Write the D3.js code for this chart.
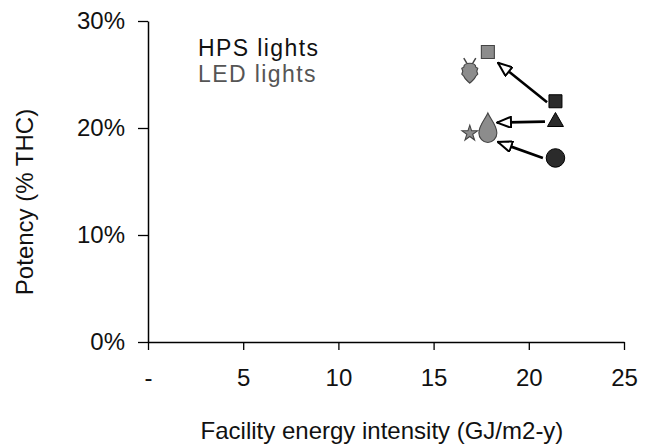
<!DOCTYPE html>
<html>
<head>
<meta charset="utf-8">
<script src="https://cdn.jsdelivr.net/npm/d3@7"></script>
<style>
  body { margin: 0; background: #fff; }
  svg { display: block; font-family: "Liberation Sans", Arial, sans-serif; }
</style>
</head>
<body>
<svg id="chart" width="645" height="445"></svg>
<script>
// ---- data ----
const xTicks = [0, 5, 10, 15, 20, 25];
const xTickLabels = ["-", "5", "10", "15", "20", "25"];
const yTicks = [0, 0.1, 0.2, 0.3];
const yTickLabels = ["0%", "10%", "20%", "30%"];

const hpsNames = ["square", "triangle", "circle"];
const hpsX = [21.4, 21.4, 21.4];
const hpsY = [0.225, 0.207, 0.172];

const ledNames = ["square", "bug", "drop", "star"];
const ledX = [17.85, 16.9, 17.85, 16.9];
const ledY = [0.271, 0.254, 0.200, 0.195];

// arrows: from HPS toward LED (tail x, tail y, tip x, tip y)
const arrowX1 = [20.96, 20.85, 20.74];
const arrowY1 = [0.224, 0.206, 0.172];
const arrowX2 = [18.38, 18.33, 18.38];
const arrowY2 = [0.261, 0.205, 0.187];

const legendLabels = ["HPS lights", "LED lights"];
const xTitle = "Facility energy intensity (GJ/m2-y)";
const yTitle = "Potency (% THC)";

(function () {
// ---- layout ----
const svg = d3.select("#chart");
const mLeft = 148, mRight = 624, mTop = 21, mBottom = 342;
const FONT = "'Liberation Sans', Arial, sans-serif";

const x = d3.scaleLinear().domain([0, 25]).range([mLeft, mRight]);
const y = d3.scaleLinear().domain([0, 0.3]).range([mBottom, mTop]);

const HPS_COLOR = "#2b2b2b";
const LED_COLOR = "#8c8c8c";

// y axis
const yAxis = d3.axisLeft(y).tickValues(yTicks)
  .tickFormat((d, i) => yTickLabels[i]).tickSizeInner(10).tickSizeOuter(0).tickPadding(13);
const gy = svg.append("g").attr("transform", `translate(${mLeft},0)`).call(yAxis);
gy.select(".domain").attr("stroke", "#000").attr("stroke-width", 1.5);
gy.selectAll(".tick line").attr("stroke", "#000").attr("stroke-width", 1.3);
gy.selectAll(".tick text").attr("font-size", 24).attr("fill", "#111").attr("font-family", FONT);

// x axis
const xAxis = d3.axisBottom(x).tickValues(xTicks)
  .tickFormat((d, i) => xTickLabels[i]).tickSizeInner(8).tickSizeOuter(0).tickPadding(19);
const gx = svg.append("g").attr("transform", `translate(0,${mBottom})`).call(xAxis);
gx.select(".domain").attr("stroke", "#000").attr("stroke-width", 1.5);
gx.selectAll(".tick line").attr("stroke", "#000").attr("stroke-width", 1.3);
gx.selectAll(".tick text").attr("font-size", 24).attr("fill", "#111").attr("font-family", FONT);

// titles
svg.append("text").attr("x", 382).attr("y", 439)
  .attr("text-anchor", "middle").attr("font-size", 24).attr("fill", "#111").text(xTitle);
svg.append("text").attr("transform", `translate(33,202) rotate(-90)`)
  .attr("text-anchor", "middle").attr("font-size", 24).attr("fill", "#111").text(yTitle);

// legend
svg.append("text").attr("x", 198).attr("y", 56).attr("font-size", 23)
  .attr("letter-spacing", 1.4).attr("fill", "#111").text(legendLabels[0]);
svg.append("text").attr("x", 198).attr("y", 82).attr("font-size", 23)
  .attr("letter-spacing", 1.4).attr("fill", "#555").text(legendLabels[1]);

// arrows
const defs = svg.append("defs");
defs.append("marker").attr("id", "openArrow")
  .attr("viewBox", "0 0 16 12").attr("refX", 15).attr("refY", 6)
  .attr("markerWidth", 16).attr("markerHeight", 12).attr("markerUnits", "userSpaceOnUse")
  .attr("orient", "auto")
  .append("path").attr("d", "M15,6 L1,0.5 L1,11.5 Z")
  .attr("fill", "#fff").attr("stroke", "#000").attr("stroke-width", 2).attr("stroke-linejoin", "miter");

arrowX1.forEach((_, i) => {
  svg.append("line")
    .attr("x1", x(arrowX1[i])).attr("y1", y(arrowY1[i]))
    .attr("x2", x(arrowX2[i])).attr("y2", y(arrowY2[i]))
    .attr("stroke", "#000").attr("stroke-width", 2.6)
    .attr("marker-end", "url(#openArrow)");
});

// marker shapes
function shapePath(name) {
  switch (name) {
    case "square": return "M-6.5,-6.5H6.5V6.5H-6.5Z";
    case "triangle": return "M0,-8L8,6H-8Z";
    case "circle": return d3.symbol(d3.symbolCircle, 270)();
    case "star": return d3.symbol(d3.symbolStar, 75)();
    case "drop": return "M0,-15C2.5,-9 9,-3 9,5A9,9.5 0 1 1 -9,5C-9,-3 -2.5,-9 0,-15Z";
    case "bug": return "M0,-7C4,-7 6,-5 6,-3L8,-2L7,1L8,4L6,6C5,9 2,11 0,13C-2,11 -5,9 -6,6L-8,4L-7,1L-8,-2L-6,-3C-6,-5 -4,-7 0,-7Z";
  }
}

const hps = svg.append("g");
hpsNames.forEach((n, i) => {
  hps.append("path").attr("d", shapePath(n))
    .attr("transform", `translate(${x(hpsX[i])},${y(hpsY[i])})`)
    .attr("fill", HPS_COLOR).attr("stroke", "#000").attr("stroke-width", 1);
});

const led = svg.append("g");
ledNames.forEach((n, i) => {
  const g = led.append("g").attr("transform", `translate(${x(ledX[i])},${y(ledY[i])})`);
  g.append("path").attr("d", shapePath(n))
    .attr("fill", LED_COLOR).attr("stroke", "#444").attr("stroke-width", 1.1);
  if (n === "bug") {
    g.append("path").attr("d", "M-3,-7L-6,-12M3,-7L6,-12")
      .attr("stroke", "#444").attr("stroke-width", 1.5).attr("fill", "none");
  }
});
})();
</script>
</body>
</html>
